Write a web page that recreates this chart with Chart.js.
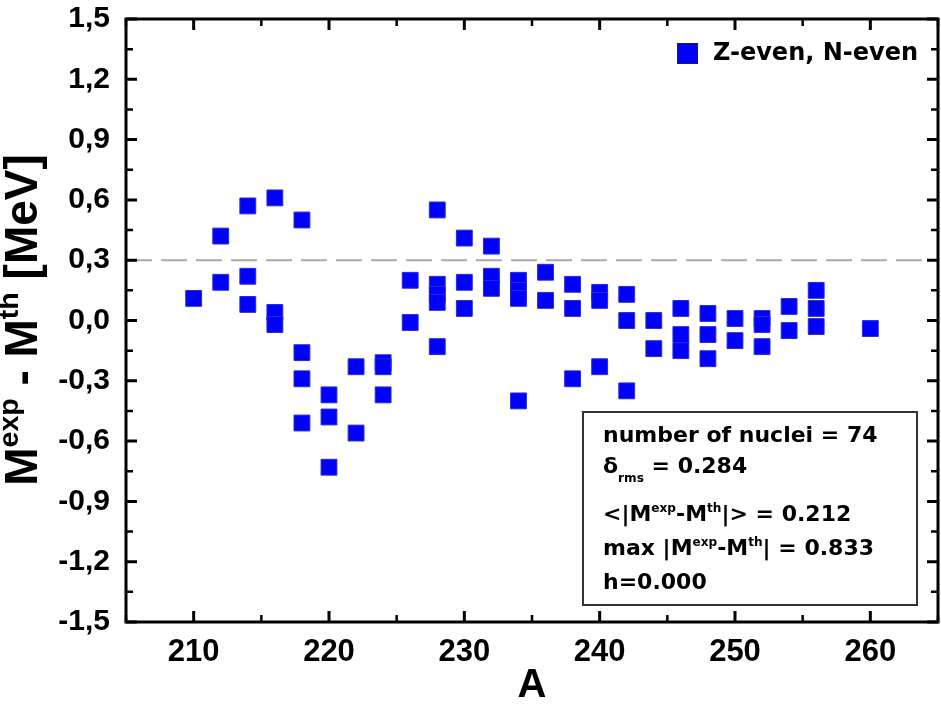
<!DOCTYPE html>
<html>
<head>
<meta charset="utf-8">
<script src="https://cdn.jsdelivr.net/npm/chart.js@4.4.1/dist/chart.umd.min.js"></script>
<style>
  body { margin: 0; background: #fff; }
  canvas { display: block; }
</style>
</head>
<body>
<canvas id="chart" width="941" height="710"></canvas>
<script>
// mass number A and M_exp - M_th (MeV)
const massNumbers = [
  210,
  212, 212,
  214, 214, 214,
  216, 216, 216,
  218, 218, 218, 218,
  220, 220, 220,
  222, 222,
  224, 224, 224,
  226, 226,
  228, 228, 228, 228, 228,
  230, 230, 230,
  232, 232, 232,
  234, 234, 234, 234,
  236, 236,
  238, 238, 238,
  240, 240, 240,
  242, 242, 242,
  244, 244,
  246, 246, 246,
  248, 248, 248,
  250, 250,
  252, 252, 252,
  254, 254,
  256, 256, 256,
  260
];
const massDiffs = [
  0.11,
  0.42, 0.19,
  0.57, 0.22, 0.08,
  0.61, 0.04, -0.02,
  0.50, -0.16, -0.29, -0.51,
  -0.37, -0.48, -0.73,
  -0.23, -0.56,
  -0.21, -0.23, -0.37,
  0.20, -0.01,
  0.55, 0.18, 0.13, 0.09, -0.13,
  0.41, 0.19, 0.06,
  0.37, 0.22, 0.16,
  0.20, 0.15, 0.11, -0.40,
  0.24, 0.10,
  0.18, 0.06, -0.29,
  0.14, 0.10, -0.23,
  0.13, 0.00, -0.35,
  0.00, -0.14,
  0.06, -0.07, -0.15,
  0.035, -0.07, -0.19,
  0.01, -0.10,
  0.01, -0.02, -0.13,
  0.07, -0.05,
  0.15, 0.06, -0.03,
  -0.04
];
const seriesLabel = 'Z-even, N-even';
const refLevel = 0.3;

const xTicks = [210, 220, 230, 240, 250, 260];
const xMinorTicks = [205, 215, 225, 235, 245, 255, 265];
const yTicks = [-1.5, -1.2, -0.9, -0.6, -0.3, 0, 0.3, 0.6, 0.9, 1.2, 1.5];
const yMinorTicks = [-1.35, -1.05, -0.75, -0.45, -0.15, 0.15, 0.45, 0.75, 1.05, 1.35];

const statsLines = [
  [{t: 'number of nuclei = 74'}],
  [{t: 'δ'}, {t: 'rms', sub: true}, {t: ' = 0.284'}],
  [{t: '<|M'}, {t: 'exp', sup: true}, {t: '-M'}, {t: 'th', sup: true}, {t: '|> = 0.212'}],
  [{t: 'max |M'}, {t: 'exp', sup: true}, {t: '-M'}, {t: 'th', sup: true}, {t: '| = 0.833'}],
  [{t: 'h=0.000'}]
];

const points = massNumbers.map((a, i) => ({x: a, y: massDiffs[i]}));

const narrow = '"Liberation Sans Narrow", "Liberation Sans", Arial, sans-serif';
const sans = '"Liberation Sans", Arial, sans-serif';
const wide = '"DejaVu Sans", Verdana, sans-serif';

function drawRich(ctx, x, y, parts, size, family, small) {
  parts.forEach(p => {
    const s = (p.sup || p.sub) ? size * small : size;
    ctx.font = `bold ${s}px ${family}`;
    const dy = p.sup ? -size * 0.42 : (p.sub ? size * 0.4 : 0);
    ctx.fillText(p.t, x, y + dy);
    x += ctx.measureText(p.t).width;
  });
  return x;
}

function richWidth(ctx, parts, size, family, small) {
  let w = 0;
  parts.forEach(p => {
    const s = (p.sup || p.sub) ? size * small : size;
    ctx.font = `bold ${s}px ${family}`;
    w += ctx.measureText(p.t).width;
  });
  return w;
}

const decor = {
  id: 'decor',
  afterDraw(chart) {
    const ctx = chart.ctx;
    const a = chart.chartArea;
    const xs = chart.scales.x, ys = chart.scales.y;
    ctx.save();
    ctx.strokeStyle = '#000';
    ctx.lineWidth = 3;
    ctx.strokeRect(a.left, a.top, a.right - a.left, a.bottom - a.top);

    // inward ticks on all four sides
    const tick = (list, len) => {
      list.forEach(v => {
        const px = xs.getPixelForValue(v);
        ctx.beginPath();
        ctx.moveTo(px, a.bottom); ctx.lineTo(px, a.bottom - len);
        ctx.moveTo(px, a.top); ctx.lineTo(px, a.top + len);
        ctx.stroke();
      });
    };
    const ytick = (list, len) => {
      list.forEach(v => {
        const py = ys.getPixelForValue(v);
        ctx.beginPath();
        ctx.moveTo(a.left, py); ctx.lineTo(a.left + len, py);
        ctx.moveTo(a.right, py); ctx.lineTo(a.right - len, py);
        ctx.stroke();
      });
    };
    ctx.lineWidth = 3;
    tick(xTicks, 11); ytick(yTicks, 11);
    ctx.lineWidth = 2.5;
    tick(xMinorTicks, 7); ytick(yMinorTicks, 7);

    // legend
    ctx.fillStyle = '#0000ff';
    ctx.fillRect(677, 43, 21, 21);
    ctx.lineWidth = 1;
    ctx.strokeStyle = '#1a1a80';
    ctx.strokeRect(677.5, 43.5, 20, 20);
    ctx.fillStyle = '#000';
    ctx.textBaseline = 'middle';
    ctx.font = `bold 24px ${wide}`;
    ctx.fillText(seriesLabel, 713, 54);

    // stats box
    ctx.fillStyle = '#fff';
    ctx.fillRect(583, 412, 334, 193);
    ctx.strokeStyle = '#333';
    ctx.lineWidth = 2;
    ctx.strokeRect(583, 412, 334, 193);
    ctx.fillStyle = '#000';
    ctx.textBaseline = 'alphabetic';
    const baselines = [442, 473, 521, 555, 589];
    statsLines.forEach((parts, i) => drawRich(ctx, 603, baselines[i], parts, 22, wide, 0.55));

    // y axis title
    const yTitle = [{t: 'M'}, {t: 'exp', sup: true}, {t: ' - M'}, {t: 'th', sup: true}, {t: ' [MeV]'}];
    const tw = richWidth(ctx, yTitle, 46, sans, 0.62);
    ctx.translate(37, 320 + tw / 2);
    ctx.rotate(-Math.PI / 2);
    drawRich(ctx, 0, 0, yTitle, 46, sans, 0.62);
    ctx.restore();
  }
};

new Chart(document.getElementById('chart'), {
  type: 'scatter',
  data: {
    datasets: [
      {
        label: seriesLabel,
        data: points,
        pointStyle: 'rect',
        pointRadius: 11.2,
        pointHoverRadius: 11.2,
        backgroundColor: '#0000ff',
        borderColor: '#2a2ad0',
        borderWidth: 1,
        order: 1
      },
      {
        type: 'line',
        data: [{x: 205, y: refLevel}, {x: 265, y: refLevel}],
        borderColor: '#a8a8a8',
        borderWidth: 2,
        borderDash: [26, 9],
        pointRadius: 0,
        order: 2
      }
    ]
  },
  options: {
    responsive: false,
    animation: false,
    layout: { autoPadding: false, padding: { top: 19, right: 3, left: 0, bottom: 0 } },
    plugins: { legend: { display: false }, tooltip: { enabled: false } },
    scales: {
      x: {
        type: 'linear',
        min: 205,
        max: 265,
        afterBuildTicks: s => { s.ticks = xTicks.map(v => ({value: v})); },
        afterFit: s => {
          s.height = 88;
          s.paddingLeft = 0; s.paddingRight = 0;
        },
        grid: { display: false, drawTicks: false },
        border: { display: false },
        ticks: {
          color: '#000',
          padding: 12,
          font: { family: narrow, size: 31, weight: 'bold' }
        },
        title: {
          display: true,
          text: 'A',
          color: '#000',
          padding: { top: 0, bottom: 0 },
          font: { family: narrow, size: 40, weight: 'bold' }
        }
      },
      y: {
        min: -1.5,
        max: 1.5,
        afterBuildTicks: s => { s.ticks = yTicks.map(v => ({value: v})); },
        afterFit: s => {
          s.width = 126;
          s.paddingTop = 0; s.paddingBottom = 0;
        },
        grid: { display: false, drawTicks: false },
        border: { display: false },
        ticks: {
          color: '#000',
          padding: 16,
          font: { family: narrow, size: 30, weight: 'bold' },
          callback: v => v.toFixed(1).replace('.', ',')
        }
      }
    }
  },
  plugins: [decor]
});
</script>
</body>
</html>
